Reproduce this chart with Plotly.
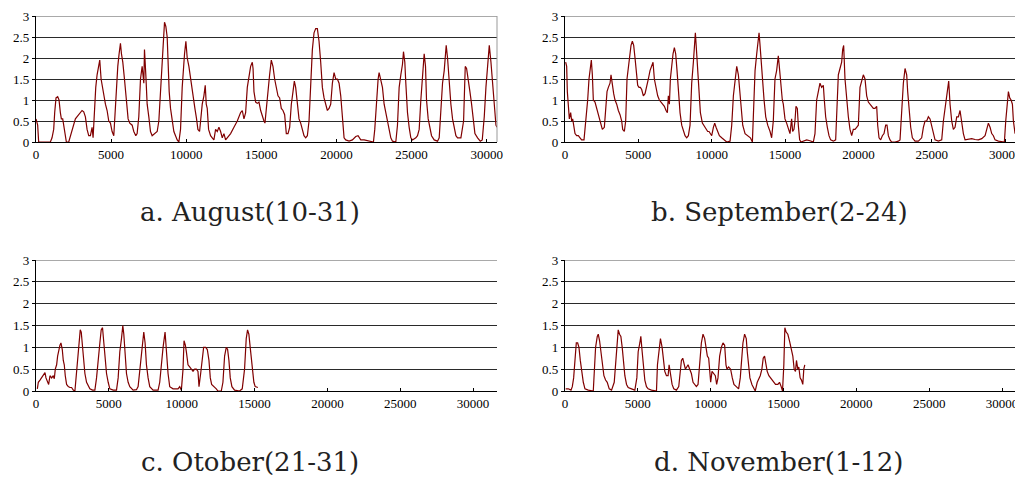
import plotly.graph_objects as go

# ---- a. August (10-31) ----
aug_x = [0, 111, 178, 956, 1067, 1178, 1244, 1333, 1444, 1533, 1622, 1689, 1778, 1844, 1956, 2022, 2178, 2289, 2400, 2511,
         2622, 2778, 2956, 3067, 3178, 3289, 3400, 3511, 3622, 3733, 3800, 3889, 3978, 4067, 4178, 4244, 4333, 4467, 4622, 4733,
         4844, 4956, 5067, 5178, 5267, 5356, 5444, 5533, 5622, 5689, 5778, 5889, 6022, 6133, 6244, 6400, 6511, 6644, 6733, 6844,
         6956, 7067, 7178, 7222, 7311, 7400, 7511, 7622, 7733, 7889, 8067, 8178, 8289, 8400, 8467, 8556, 8644, 8733, 8800, 8867,
         8956, 9067, 9178, 9289, 9400, 9511, 9622, 9733, 9800, 9889, 9978, 10067, 10178, 10289, 10400, 10467, 10578, 10689, 10778, 10889,
         10956, 11067, 11178, 11267, 11333, 11400, 11489, 11622, 11733, 11844, 11956, 12067, 12178, 12289, 12400, 12511, 12622, 12733, 12956, 13178,
         13400, 13622, 13733, 13844, 13956, 14067, 14178, 14289, 14400, 14450, 14511, 14622, 14733, 14844, 14956, 15064, 15176, 15242, 15331, 15442,
         15553, 15664, 15776, 15887, 15998, 16109, 16220, 16331, 16442, 16553, 16664, 16776, 16887, 16998, 17109, 17198, 17287, 17398, 17509, 17620,
         17731, 17842, 17954, 18065, 18176, 18287, 18398, 18509, 18620, 18731, 18842, 18953, 19064, 19176, 19287, 19398, 19509, 19620, 19731, 19842,
         19953, 20064, 20176, 20287, 20398, 20509, 20620, 20842, 21064, 21287, 21442, 21620, 21842, 22064, 22287, 22464, 22553, 22664, 22776, 22842,
         22953, 23064, 23176, 23287, 23398, 23509, 23620, 23731, 23953, 24064, 24176, 24287, 24398, 24464, 24553, 24620, 24731, 24842, 24953, 25064,
         25287, 25398, 25509, 25620, 25731, 25842, 25931, 25998, 26109, 26220, 26331, 26509, 26731, 26842, 26953, 27064, 27176, 27309, 27398, 27509,
         27620, 27731, 27842, 27954, 28065, 28287, 28465, 28576, 28665, 28776, 28887, 28998, 29109, 29220, 29398, 29576, 29709, 29842, 29953, 30064,
         30176, 30287, 30398, 30509, 30620, 30690]
aug_y = [0.55, 0.4, 0.0, 0.0, 0.1, 0.3, 0.7, 1.05, 1.08, 1.0, 0.7, 0.55, 0.55, 0.4, 0.1, 0.0, 0.0, 0.15, 0.3, 0.45,
         0.55, 0.62, 0.72, 0.75, 0.72, 0.6, 0.3, 0.15, 0.15, 0.35, 0.1, 0.8, 1.3, 1.6, 1.8, 1.95, 1.5, 1.2, 0.9, 0.75,
         0.5, 0.45, 0.25, 0.15, 0.8, 1.3, 1.8, 2.1, 2.35, 2.1, 1.9, 1.5, 1.0, 0.55, 0.45, 0.4, 0.25, 0.15, 0.2, 0.6,
         1.5, 1.8, 1.4, 2.2, 1.6, 0.9, 0.6, 0.25, 0.15, 0.2, 0.25, 0.5, 1.3, 1.8, 2.3, 2.85, 2.75, 2.5, 1.8, 1.2,
         0.8, 0.5, 0.25, 0.15, 0.05, 0.0, 0.3, 1.3, 1.8, 2.1, 2.4, 2.0, 1.8, 1.5, 1.2, 1.0, 0.8, 0.55, 0.3, 0.25,
         0.5, 0.9, 1.1, 1.35, 0.9, 0.8, 0.3, 0.15, 0.1, 0.05, 0.3, 0.25, 0.35, 0.25, 0.1, 0.2, 0.05, 0.1, 0.2, 0.35,
         0.5, 0.7, 0.75, 0.55, 0.7, 1.3, 1.6, 1.8, 1.9, 1.75, 1.2, 0.95, 0.92, 0.95, 0.75, 0.6, 0.5, 0.45, 0.8, 1.3,
         1.6, 1.95, 1.8, 1.5, 1.3, 1.1, 1.05, 0.8, 0.75, 0.65, 0.2, 0.2, 0.35, 0.9, 1.2, 1.45, 1.3, 0.9, 0.55, 0.45,
         0.3, 0.15, 0.1, 0.15, 0.5, 1.3, 2.2, 2.6, 2.7, 2.7, 2.4, 1.9, 1.3, 1.05, 0.9, 0.75, 0.8, 0.9, 1.4, 1.65,
         1.5, 1.5, 1.4, 1.1, 0.6, 0.1, 0.05, 0.02, 0.05, 0.13, 0.15, 0.05, 0.05, 0.03, 0.02, 0.0, 0.3, 1.0, 1.5, 1.65,
         1.5, 1.3, 0.9, 0.7, 0.55, 0.3, 0.1, 0.02, 0.0, 0.4, 1.3, 1.6, 1.85, 2.15, 1.9, 1.4, 0.7, 0.35, 0.1, 0.05,
         0.1, 0.15, 0.3, 1.0, 1.6, 2.1, 1.8, 1.0, 0.55, 0.3, 0.15, 0.05, 0.02, 0.1, 0.8, 1.4, 1.7, 2.3, 2.0, 1.4,
         0.9, 0.55, 0.3, 0.15, 0.1, 0.1, 0.5, 1.8, 1.75, 1.4, 1.2, 0.9, 0.6, 0.2, 0.1, 0.02, 0.05, 0.6, 1.3, 1.9,
         2.3, 1.9, 1.4, 0.7, 0.4, 0.35]

# ---- b. September (2-24) ----
sep_x = [45, 114, 159, 227, 295, 386, 455, 523, 614, 682, 795, 909, 1023, 1136, 1295, 1364, 1455, 1545, 1636, 1727,
         1795, 1864, 1932, 2045, 2159, 2273, 2386, 2455, 2545, 2682, 2773, 2864, 2955, 3068, 3136, 3227, 3318, 3409, 3523, 3636,
         3750, 3864, 3932, 4045, 4136, 4227, 4318, 4409, 4500, 4591, 4682, 4773, 4864, 4955, 5045, 5136, 5227, 5341, 5455, 5568,
         5682, 5795, 5909, 6000, 6091, 6182, 6318, 6432, 6545, 6659, 6773, 6886, 6977, 7045, 7114, 7182, 7273, 7364, 7455, 7545,
         7636, 7727, 7841, 7955, 8068, 8182, 8295, 8409, 8523, 8636, 8750, 8818, 8886, 8977, 9045, 9136, 9227, 9364, 9455, 9591,
         9727, 9818, 9909, 10000, 10114, 10205, 10295, 10409, 10523, 10682, 10864, 11023, 11250, 11364, 11477, 11591, 11705, 11818, 11909, 12000,
         12114, 12273, 12455, 12636, 12773, 12864, 12955, 13068, 13136, 13227, 13295, 13364, 13455, 13568, 13682, 13818, 13977, 14085, 14198, 14312,
         14426, 14539, 14607, 14698, 14812, 14880, 14994, 15107, 15221, 15335, 15448, 15516, 15607, 15676, 15744, 15835, 15903, 15994, 16085, 16244,
         16471, 16699, 16926, 17040, 17153, 17267, 17380, 17494, 17608, 17676, 17767, 17881, 17994, 18108, 18290, 18449, 18517, 18631, 18744, 18858,
         18926, 18994, 19085, 19199, 19313, 19426, 19540, 19653, 19767, 19881, 19994, 20108, 20222, 20335, 20449, 20563, 20676, 20790, 20904, 21017,
         21131, 21245, 21313, 21404, 21517, 21631, 21745, 21858, 21949, 22040, 22154, 22267, 22495, 22722, 22836, 22949, 23063, 23177, 23290, 23358,
         23449, 23563, 23677, 23859, 24086, 24313, 24427, 24540, 24654, 24768, 24881, 24995, 25109, 25222, 25450, 25677, 25791, 25904, 26018, 26086,
         26154, 26245, 26359, 26472, 26586, 26700, 26813, 26927, 27041, 27154, 27268, 27495, 27723, 27950, 28177, 28405, 28632, 28746, 28859, 28973,
         29086, 29200, 29314, 29541, 29768, 29950, 30041, 30132, 30223, 30314, 30405, 30496, 30564, 30678, 30791, 30905, 31018, 31132]
sep_y = [1.9, 1.8, 1.2, 0.7, 0.55, 0.7, 0.5, 0.55, 0.3, 0.2, 0.15, 0.15, 0.1, 0.05, 0.05, 0.3, 0.5, 1.0, 1.5, 1.75,
         1.95, 1.6, 1.0, 0.95, 0.8, 0.7, 0.5, 0.4, 0.3, 0.35, 0.9, 1.2, 1.3, 1.4, 1.6, 1.3, 1.15, 1.0, 0.9, 0.75,
         0.65, 0.5, 0.3, 0.25, 0.5, 1.5, 1.8, 2.1, 2.3, 2.4, 2.3, 2.0, 1.6, 1.35, 1.3, 1.3, 1.25, 1.1, 1.15, 1.3,
         1.5, 1.7, 1.8, 1.9, 1.5, 1.3, 1.1, 1.0, 0.95, 0.9, 0.85, 0.75, 0.7, 1.1, 0.9, 1.5, 1.9, 2.1, 2.25, 2.1,
         1.7, 1.2, 0.7, 0.4, 0.25, 0.15, 0.1, 0.15, 0.4, 1.4, 1.9, 2.2, 2.6, 2.1, 1.7, 1.1, 0.7, 0.45, 0.4, 0.3,
         0.25, 0.25, 0.2, 0.15, 0.35, 0.45, 0.35, 0.25, 0.15, 0.1, 0.05, 0.0, 0.02, 0.4, 1.1, 1.5, 1.8, 1.6, 1.2, 0.75,
         0.4, 0.2, 0.15, 0.1, 0.0, 0.9, 1.7, 2.1, 2.4, 2.6, 2.3, 1.9, 1.5, 1.0, 0.6, 0.4, 0.25, 0.1, 0.5, 1.5,
         1.7, 2.05, 1.8, 1.4, 1.0, 0.9, 0.55, 0.45, 0.3, 0.2, 0.55, 0.25, 0.3, 0.5, 0.85, 0.8, 0.4, 0.05, 0.0, 0.02,
         0.05, 0.03, 0.0, 0.2, 1.0, 1.2, 1.4, 1.3, 1.35, 1.0, 0.6, 0.35, 0.15, 0.05, 0.02, 0.05, 0.6, 1.6, 1.75, 1.9,
         2.2, 2.3, 1.5, 1.0, 0.6, 0.3, 0.15, 0.3, 0.3, 0.35, 0.4, 1.3, 1.45, 1.6, 1.5, 1.1, 0.95, 0.9, 0.85, 0.8,
         0.8, 0.85, 0.4, 0.1, 0.05, 0.15, 0.2, 0.4, 0.4, 0.15, 0.05, 0.0, 0.0, 0.02, 0.05, 0.7, 1.4, 1.75, 1.6, 1.2,
         0.7, 0.35, 0.1, 0.02, 0.02, 0.1, 0.35, 0.5, 0.5, 0.6, 0.55, 0.4, 0.2, 0.05, 0.02, 0.05, 0.5, 0.8, 1.0, 1.2,
         1.45, 0.9, 0.5, 0.3, 0.35, 0.6, 0.6, 0.75, 0.45, 0.2, 0.05, 0.07, 0.08, 0.06, 0.05, 0.08, 0.15, 0.3, 0.45, 0.35,
         0.2, 0.15, 0.05, 0.02, 0.0, 0.0, 0.5, 0.9, 1.2, 1.05, 1.0, 0.9, 0.5, 0.2, 0.25, 0.2, 0.1, 0.05]

# ---- c. October (21-31) ----
oct_x = [91, 160, 274, 388, 502, 616, 685, 776, 868, 959, 1073, 1187, 1256, 1324, 1416, 1484, 1553, 1644, 1712, 1804,
         1872, 1941, 2009, 2100, 2215, 2329, 2443, 2557, 2671, 2785, 2877, 2968, 3036, 3105, 3173, 3265, 3356, 3470, 3584, 3698,
         3881, 4041, 4155, 4269, 4383, 4475, 4566, 4657, 4749, 4840, 4954, 5068, 5297, 5525, 5639, 5753, 5867, 5959, 6027, 6118,
         6210, 6324, 6438, 6666, 6895, 7009, 7123, 7237, 7328, 7397, 7488, 7580, 7694, 7808, 8036, 8379, 8493, 8607, 8721, 8858,
         8949, 9063, 9178, 9406, 9748, 9863, 9977, 10091, 10159, 10251, 10319, 10433, 10547, 10661, 10776, 10890, 11004, 11118, 11187, 11301,
         11415, 11506, 11643, 11757, 11871, 11963, 12054, 12146, 12260, 12374, 12488, 12716, 12830, 12944, 13058, 13150, 13241, 13332, 13446, 13629,
         13972, 14155, 14314, 14428, 14520, 14611, 14702, 14816, 14885, 14953, 15045, 15159, 15227]
oct_y = [0.05, 0.2, 0.25, 0.3, 0.35, 0.42, 0.3, 0.2, 0.15, 0.35, 0.3, 0.35, 0.28, 0.5, 0.6, 0.8, 0.95, 1.05, 1.1, 0.95,
         0.7, 0.6, 0.35, 0.15, 0.1, 0.08, 0.08, 0.02, 0.0, 0.4, 0.85, 1.1, 1.4, 1.35, 1.1, 0.8, 0.4, 0.2, 0.12, 0.05,
         0.02, 0.02, 0.3, 0.8, 1.1, 1.4, 1.45, 1.1, 0.7, 0.4, 0.2, 0.05, 0.02, 0.02, 0.3, 0.9, 1.2, 1.5, 1.3, 0.9,
         0.4, 0.2, 0.1, 0.02, 0.03, 0.1, 0.5, 0.9, 1.2, 1.35, 1.1, 0.6, 0.3, 0.1, 0.02, 0.02, 0.2, 0.7, 1.0, 1.35,
         0.9, 0.4, 0.1, 0.05, 0.05, 0.1, 0.02, 0.5, 1.15, 1.05, 0.9, 0.6, 0.55, 0.5, 0.45, 0.5, 0.5, 0.45, 0.1, 0.4,
         0.8, 1.0, 1.0, 0.95, 0.7, 0.3, 0.15, 0.12, 0.1, 0.05, 0.0, 0.0, 0.2, 0.8, 1.0, 0.95, 0.7, 0.3, 0.1, 0.02,
         0.0, 0.05, 0.5, 1.2, 1.4, 1.3, 1.0, 0.6, 0.45, 0.2, 0.1, 0.08, 0.08]

# ---- d. November (1-12) ----
nov_x = [46, 228, 411, 502, 594, 685, 776, 868, 959, 1050, 1142, 1256, 1370, 1598, 1941, 2009, 2100, 2215, 2283, 2374,
         2466, 2557, 2671, 2785, 2899, 3036, 3196, 3379, 3493, 3584, 3653, 3744, 3835, 3927, 4018, 4109, 4224, 4338, 4566, 4794,
         4931, 5023, 5137, 5205, 5297, 5388, 5479, 5593, 5708, 5936, 6278, 6347, 6461, 6552, 6666, 6758, 6849, 6963, 7077, 7146,
         7237, 7351, 7465, 7648, 7808, 7899, 7991, 8082, 8173, 8264, 8356, 8447, 8561, 8675, 8790, 8904, 9018, 9132, 9246, 9360,
         9474, 9589, 9680, 9771, 9863, 9931, 9999, 10091, 10205, 10319, 10410, 10502, 10616, 10730, 10844, 10958, 11050, 11118, 11232, 11369,
         11483, 11598, 11757, 11917, 12031, 12123, 12214, 12328, 12442, 12511, 12602, 12693, 12830, 12967, 13059, 13196, 13310, 13401, 13515, 13606,
         13698, 13789, 13880, 13994, 14109, 14223, 14337, 14451, 14611, 14725, 14840, 14931, 15022, 15091, 15182, 15296, 15410, 15524, 15639, 15730,
         15821, 15889, 15981, 16049, 16140, 16232, 16323, 16392, 16460]
nov_y = [0.05, 0.05, 0.02, 0.1, 0.3, 0.8, 1.1, 1.1, 1.0, 0.7, 0.45, 0.2, 0.05, 0.02, 0.0, 0.5, 1.0, 1.25, 1.3, 1.15,
         0.9, 0.55, 0.35, 0.25, 0.2, 0.05, 0.02, 0.2, 0.7, 1.1, 1.4, 1.3, 1.25, 1.0, 0.6, 0.35, 0.15, 0.08, 0.05, 0.02,
         0.3, 0.9, 1.1, 1.25, 0.9, 0.5, 0.25, 0.1, 0.05, 0.02, 0.0, 0.6, 1.0, 1.2, 1.0, 0.7, 0.45, 0.35, 0.35, 0.6,
         0.35, 0.15, 0.05, 0.02, 0.1, 0.5, 0.7, 0.75, 0.65, 0.5, 0.55, 0.6, 0.5, 0.4, 0.2, 0.15, 0.1, 0.15, 0.6, 1.1,
         1.3, 1.2, 1.0, 0.8, 0.75, 0.5, 0.2, 0.45, 0.4, 0.35, 0.15, 0.3, 0.8, 1.0, 1.1, 1.05, 0.6, 0.5, 0.55, 0.5,
         0.3, 0.15, 0.1, 0.05, 0.3, 0.8, 1.1, 1.3, 1.2, 0.9, 0.5, 0.3, 0.15, 0.05, 0.0, 0.2, 0.3, 0.35, 0.5, 0.75,
         0.8, 0.65, 0.45, 0.35, 0.3, 0.25, 0.2, 0.15, 0.15, 0.2, 0.1, 0.0, 0.6, 1.45, 1.35, 1.3, 1.15, 1.0, 0.8, 0.5,
         0.45, 0.7, 0.5, 0.55, 0.3, 0.25, 0.15, 0.5, 0.6]

x_ticks = [0, 5000, 10000, 15000, 20000, 25000, 30000]
y_ticks = [0, 0.5, 1, 1.5, 2, 2.5, 3]
captions = ["a. August(10-31)", "b. September(2-24)", "c. Otober(21-31)", "d. November(1-12)"]

# The page body has an 8px default margin: the figure is drawn 8px right/down,
# so it is sized to the remaining area and all pixel positions are offset by 8.
OFF = 8
W, H = 1023 - OFF, 478 - OFF
LINE = "#800000"
TICKFONT = dict(family="Liberation Serif", size=13, color="#000")

panels = [
    (aug_x, aug_y, (36, 497), (16, 142), 30690, True),
    (sep_x, sep_y, (565, 1022), (16, 142), 31150, True),
    (oct_x, oct_y, (36, 497), (260, 391), 31640, False),
    (nov_x, nov_y, (565, 1022), (260, 391), 31370, False),
]

fig = go.Figure()
layout = dict(width=W, height=H, margin=dict(l=0, r=0, t=0, b=0, autoexpand=False),
              paper_bgcolor="white", plot_bgcolor="white", showlegend=False)
shapes = []
for i, (xs, ys, (px0, px1), (py0, py1), xmax, border) in enumerate(panels, start=1):
    sx = "" if i == 1 else str(i)
    fig.add_trace(go.Scatter(x=xs, y=ys, mode="lines", xaxis="x" + sx, yaxis="y" + sx,
                             line=dict(color=LINE, width=1.2), hoverinfo="skip", cliponaxis=False))
    layout["xaxis" + sx] = dict(domain=[(px0 - OFF) / W, min(1, (px1 - OFF) / W)], range=[0, xmax],
                                anchor="y" + sx,
                                tickvals=x_ticks, tickformat="d", ticks="inside", ticklen=3,
                                tickcolor="#000", showgrid=False, zeroline=False,
                                showline=True, linecolor="#000", linewidth=1.2,
                                tickfont=TICKFONT, automargin=False, fixedrange=True,
                                ticklabeloverflow="allow")
    layout["yaxis" + sx] = dict(domain=[1 - (py1 - OFF) / H, 1 - (py0 - OFF) / H], range=[0, 3],
                                anchor="x" + sx,
                                tickvals=y_ticks, ticks="outside", ticklen=3, tickcolor="#000",
                                showgrid=True, gridcolor="#2a2a2a", gridwidth=1, zeroline=False,
                                showline=True, linecolor="#000", linewidth=1.2,
                                tickfont=TICKFONT, automargin=False, fixedrange=True,
                                ticklabeloverflow="allow")
    # top edge line at y = 3 (plot-area edge / top gridline)
    shapes.append(dict(type="line", xref="x" + sx + " domain", yref="y" + sx,
                       x0=0, x1=1, y0=3, y1=3, line=dict(color="#555", width=1)))
    if border:
        shapes.append(dict(type="line", xref="x" + sx + " domain", yref="y" + sx + " domain",
                           x0=1, x1=1, y0=0, y1=1, line=dict(color="#999", width=1)))

fig.update_layout(**layout, shapes=shapes)

cap_pos = [(250, 212), (779, 212), (250, 462), (778, 462)]
for text, (cx, cy) in zip(captions, cap_pos):
    fig.add_annotation(text=text, xref="paper", yref="paper", x=(cx - OFF) / W, y=1 - (cy - OFF) / H,
                       xanchor="center", yanchor="middle", showarrow=False,
                       font=dict(family="DejaVu Serif", size=26, color="#222"))

fig.write_html("out.html")
